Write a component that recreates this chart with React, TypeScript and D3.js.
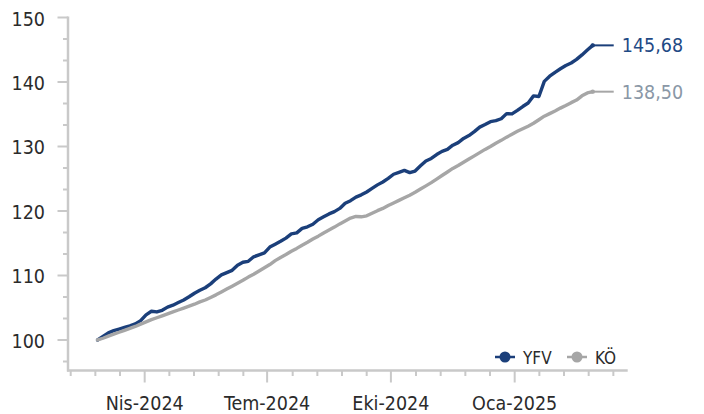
import React, { useEffect, useRef } from "react";
import * as d3 from "d3";

// first observation and spacing of the observations (days)
const startDate = new Date(2024, 1, 26);
const stepDays = 4;

const yfvValues = [
  100.0, 100.55, 101.1, 101.45, 101.7, 101.95, 102.2, 102.5, 103.0, 103.9,
  104.45, 104.35, 104.6, 105.1, 105.4, 105.8, 106.2, 106.7, 107.25, 107.7,
  108.1, 108.7, 109.45, 110.1, 110.45, 110.8, 111.6, 112.05, 112.2, 112.9,
  113.2, 113.5, 114.4, 114.85, 115.3, 115.8, 116.45, 116.6, 117.3, 117.55,
  117.95, 118.65, 119.1, 119.55, 119.9, 120.4, 121.2, 121.6, 122.15, 122.5,
  122.95, 123.5, 124.05, 124.5, 125.05, 125.7, 126.0, 126.3, 125.95, 126.2,
  127.0, 127.75, 128.15, 128.75, 129.25, 129.55, 130.2, 130.6, 131.25, 131.7,
  132.3, 133.0, 133.4, 133.85, 134.0, 134.3, 135.1, 135.05, 135.6, 136.2,
  136.75, 137.85, 137.75, 140.1, 140.9, 141.5, 142.05, 142.55, 142.95, 143.5,
  144.2, 144.95, 145.68,
];

const koValues = [
  100.0, 100.27, 100.6, 100.9, 101.2, 101.5, 101.8, 102.1, 102.45, 102.8,
  103.15, 103.45, 103.75, 104.05, 104.35, 104.65, 104.95, 105.25, 105.55, 105.9,
  106.2, 106.6, 107.0, 107.45, 107.9, 108.35, 108.8, 109.25, 109.75, 110.2,
  110.7, 111.2, 111.7, 112.3, 112.8, 113.25, 113.75, 114.2, 114.7, 115.15,
  115.65, 116.1, 116.6, 117.05, 117.5, 118.0, 118.45, 118.9, 119.15, 119.1,
  119.25, 119.65, 120.05, 120.4, 120.85, 121.25, 121.65, 122.05, 122.45, 122.9,
  123.4, 123.9, 124.4, 124.95, 125.5, 126.05, 126.6, 127.05, 127.55, 128.05,
  128.55, 129.05, 129.55, 130.0, 130.5, 130.95, 131.45, 131.9, 132.35, 132.75,
  133.15, 133.6, 134.15, 134.7, 135.1, 135.5, 135.95, 136.35, 136.8, 137.2,
  137.85, 138.3, 138.5,
];

const seriesNames = ["YFV", "KÖ"];
const yTicks = [100, 110, 120, 130, 140, 150];
const monthNames = ["Oca", "Şub", "Mar", "Nis", "May", "Haz", "Tem", "Ağu", "Eyl", "Eki", "Kas", "Ara"];

const width = 704;
const height = 414;
const font = "Tahoma, 'DejaVu Sans Condensed', 'DejaVu Sans', sans-serif";
const axisColor = "#c9c9c9";
const colors = [
  { line: "#1b3f7a", label: "#1f4a85" },
  { line: "#a6a6a6", label: "#8a97a6" },
];

const App = () => {
  const ref = useRef<SVGSVGElement>(null);

  useEffect(() => {
    const svg = d3.select(ref.current);
    svg.selectAll("*").remove();

    const dates = yfvValues.map((_, i) => d3.timeDay.offset(startDate, i * stepDays));

    const x = d3
      .scaleTime()
      .domain([new Date(2024, 1, 4), new Date(2025, 2, 26)])
      .range([68, 627.7]);
    const y = d3.scaleLinear().domain([95.27, 150]).range([370.5, 17.5]);
    const [x0, x1] = x.range();
    const [yBottom, yTop] = y.range();

    // y axis
    svg
      .append("line")
      .attr("x1", x0)
      .attr("x2", x0)
      .attr("y1", yTop - 1)
      .attr("y2", yBottom + 1)
      .attr("stroke", axisColor)
      .attr("stroke-width", 2.5);

    const minorY = d3
      .range(-1, 15)
      .filter((k) => k % 3 !== 0)
      .map((k) => 100 + (k * 10) / 3);

    svg
      .selectAll("line.y-minor")
      .data(minorY)
      .enter()
      .append("line")
      .attr("class", "y-minor")
      .attr("x1", x0 - 5)
      .attr("x2", x0)
      .attr("y1", (d) => y(d))
      .attr("y2", (d) => y(d))
      .attr("stroke", axisColor)
      .attr("stroke-width", 2);

    svg
      .selectAll("line.y-major")
      .data(yTicks)
      .enter()
      .append("line")
      .attr("class", "y-major")
      .attr("x1", x0 - 10.5)
      .attr("x2", x0)
      .attr("y1", (d) => y(d))
      .attr("y2", (d) => y(d))
      .attr("stroke", axisColor)
      .attr("stroke-width", 2);

    svg
      .selectAll("text.y-label")
      .data(yTicks)
      .enter()
      .append("text")
      .attr("class", "y-label")
      .attr("x", 45)
      .attr("y", (d) => y(d) + 8)
      .attr("text-anchor", "end")
      .attr("fill", "#2b2b2b")
      .style("font-family", font)
      .style("font-size", "19.5px")
      .text((d) => d);

    // x axis
    svg
      .append("line")
      .attr("x1", x0 - 1)
      .attr("x2", x1)
      .attr("y1", yBottom)
      .attr("y2", yBottom)
      .attr("stroke", axisColor)
      .attr("stroke-width", 2.5);

    const majors = d3.timeMonth.every(3)!.range(new Date(2024, 3, 1), new Date(2025, 1, 1));
    const minorStep = (+majors[majors.length - 1] - +majors[0]) / ((majors.length - 1) * 5);
    const minorX = d3
      .range(-3, (majors.length - 1) * 5 + 5)
      .filter((k) => k % 5 !== 0)
      .map((k) => new Date(+majors[0] + k * minorStep))
      .filter((d) => x(d) >= x0 && x(d) < x1);

    svg
      .selectAll("line.x-minor")
      .data(minorX)
      .enter()
      .append("line")
      .attr("class", "x-minor")
      .attr("x1", (d) => x(d))
      .attr("x2", (d) => x(d))
      .attr("y1", yBottom)
      .attr("y2", yBottom + 5.5)
      .attr("stroke", axisColor)
      .attr("stroke-width", 2);

    svg
      .selectAll("line.x-major")
      .data(majors)
      .enter()
      .append("line")
      .attr("class", "x-major")
      .attr("x1", (d) => x(d))
      .attr("x2", (d) => x(d))
      .attr("y1", yBottom)
      .attr("y2", yBottom + 12)
      .attr("stroke", axisColor)
      .attr("stroke-width", 2);

    svg
      .selectAll("text.x-label")
      .data(majors)
      .enter()
      .append("text")
      .attr("class", "x-label")
      .attr("x", (d) => x(d))
      .attr("y", 410)
      .attr("text-anchor", "middle")
      .attr("fill", "#2b2b2b")
      .style("font-family", font)
      .style("font-size", "19.5px")
      .text((d) => `${monthNames[d.getMonth()]}-${d.getFullYear()}`);

    // series
    const line = d3
      .line<number>()
      .x((_, i) => x(dates[i]))
      .y((d) => y(d));

    [yfvValues, koValues].forEach((values, s) => {
      svg
        .append("path")
        .datum(values)
        .attr("d", line)
        .attr("fill", "none")
        .attr("stroke", colors[s].line)
        .attr("stroke-width", 3.4)
        .attr("stroke-linejoin", "round")
        .attr("stroke-linecap", "round");
    });

    // last value leader + label
    [yfvValues, koValues].forEach((values, s) => {
      const last = values[values.length - 1];
      const lx = x(dates[values.length - 1]);
      svg
        .append("line")
        .attr("x1", lx)
        .attr("x2", lx + 21)
        .attr("y1", y(last))
        .attr("y2", y(last))
        .attr("stroke", colors[s].line)
        .attr("stroke-width", 2);
      svg
        .append("circle")
        .attr("cx", lx)
        .attr("cy", y(last))
        .attr("r", 2.2)
        .attr("fill", colors[s].line);
      svg
        .append("text")
        .attr("x", lx + 29)
        .attr("y", y(last) + 7)
        .attr("fill", colors[s].label)
        .style("font-family", font)
        .style("font-size", "19.5px")
        .text(d3.format(".2f")(last).replace(".", ","));
    });

    // legend
    const legend = svg.append("g").attr("transform", "translate(495, 357)");
    seriesNames.forEach((name, s) => {
      const item = legend.append("g").attr("transform", `translate(${s * 72}, 0)`);
      item
        .append("line")
        .attr("x1", 0)
        .attr("x2", 20)
        .attr("stroke", colors[s].line)
        .attr("stroke-width", 2.5);
      item
        .append("circle")
        .attr("cx", 10)
        .attr("r", 5.5)
        .attr("fill", colors[s].line);
      item
        .append("text")
        .attr("x", 28)
        .attr("y", 6.5)
        .attr("fill", "#2b2b2b")
        .style("font-family", font)
        .style("font-size", "17px")
        .text(name);
    });
  }, []);

  return (
    <svg
      ref={ref}
      width={width}
      height={height}
      style={{ position: "absolute", left: 0, top: 0, background: "#fff" }}
    />
  );
};

export default App;
